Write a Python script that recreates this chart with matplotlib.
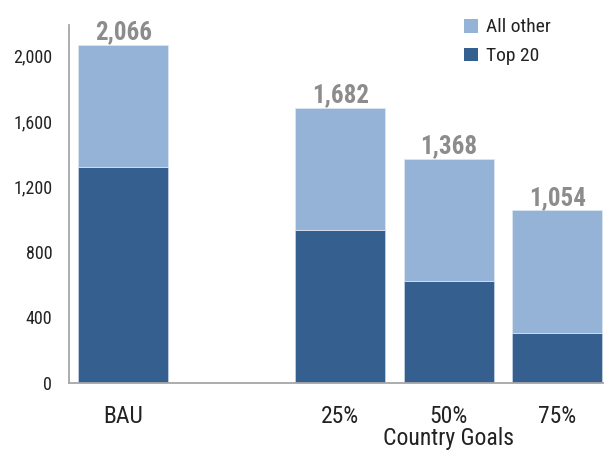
import matplotlib
matplotlib.use("Agg")
import matplotlib.pyplot as plt
from matplotlib.patches import Patch

plt.rcParams["font.family"] = ["Roboto Condensed", "DejaVu Sans"]

# Data (emissions by scenario)
categories = ["BAU", "25%", "50%", "75%"]
positions = [0, 2, 3, 4]
top20 = [1318, 934, 620, 306]
all_other = [748, 748, 748, 748]
y_ticks = [0, 400, 800, 1200, 1600, 2000]

dark = "#355f8f"
light = "#95b3d7"

fig = plt.figure(figsize=(6.04, 4.51), dpi=100)
ax = fig.add_axes([69 / 604, 1 - 383 / 451, 1 - 69 / 604, (383 - 25) / 451])

width = 0.83
ax.bar(positions, top20, width=width, color=dark, edgecolor="#c9d6e8", linewidth=0.5,
       label="Top 20", zorder=2)
ax.bar(positions, all_other, width=width, bottom=top20, color=light, edgecolor="#dfe8f3",
       linewidth=0.5, label="All other", zorder=2)

totals = [a + b for a, b in zip(top20, all_other)]
for x, t in zip(positions, totals):
    ax.annotate(f"{t:,}", xy=(x, t), xytext=(0, 4), textcoords="offset points",
                ha="center", va="baseline", fontsize=18, fontweight="bold", color="#8c8c8c")

ax.set_xlim(-0.502, 4.43)
ax.set_ylim(0, 2186)
ax.set_yticks(y_ticks)
ax.set_yticklabels([f"{v:,}" for v in y_ticks])
ax.set_xticks(positions)
ax.set_xticklabels(categories)
ax.tick_params(axis="y", length=0, pad=12, labelsize=13, labelcolor="#222222")
ax.tick_params(axis="x", length=0, pad=16, labelsize=17, labelcolor="#222222")

for side in ("top", "right"):
    ax.spines[side].set_visible(False)
for side in ("left", "bottom"):
    ax.spines[side].set_color("#a6a6a6")
    ax.spines[side].set_linewidth(1.3)

ax.annotate("Country Goals", xy=(3, 0), xycoords=("data", "axes fraction"),
            xytext=(0, -40), textcoords="offset points", ha="center", va="center",
            fontsize=17, color="#222222")

handles = [Patch(facecolor=light, label="All other"), Patch(facecolor=dark, label="Top 20")]
fig.legend(handles=handles, loc="upper left", bbox_to_anchor=(447 / 604, 1 - 1 / 451),
           frameon=False, fontsize=14, handlelength=0.7, handleheight=0.7,
           handletextpad=0.4, labelspacing=0.55, labelcolor="#222222")

fig.savefig("out.png", dpi=100)
